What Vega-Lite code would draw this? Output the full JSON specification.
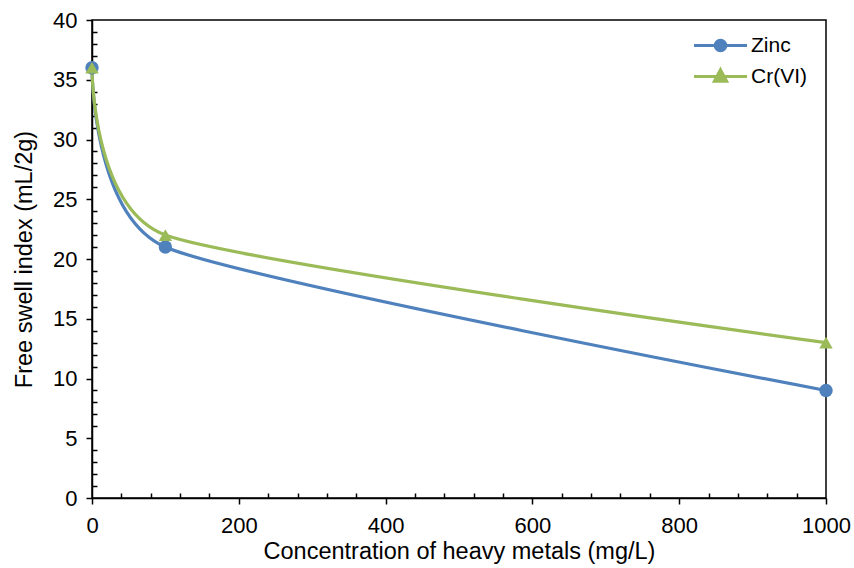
{
  "$schema": "https://vega.github.io/schema/vega-lite/v6.json",
  "width": 734,
  "height": 478,
  "autosize": {"type": "none"},
  "padding": {"left": 92, "top": 20, "right": 28, "bottom": 70},
  "background": "white",
  "config": {
    "font": "Liberation Sans",
    "view": {"stroke": "black", "strokeWidth": 1.5},
    "axis": {"grid": false, "domainColor": "black", "domainWidth": 1.5, "tickColor": "black", "tickWidth": 1.5, "labelColor": "black", "titleColor": "black", "labelFontSize": 22, "titleFontSize": 23.5, "titleFontWeight": "normal", "labelOverlap": false, "labelFlush": false}
  },
  "data": {
    "values": [
      {"series": "Zinc", "conc": 0, "swell": 36},
      {"series": "Zinc", "conc": 100, "swell": 21},
      {"series": "Zinc", "conc": 1000, "swell": 9},
      {"series": "Cr(VI)", "conc": 0, "swell": 36},
      {"series": "Cr(VI)", "conc": 100, "swell": 22},
      {"series": "Cr(VI)", "conc": 1000, "swell": 13}
    ]
  },
  "encoding": {
    "x": {
      "field": "conc", "type": "quantitative",
      "scale": {"domain": [0, 1000], "nice": false},
      "axis": {
        "title": "Concentration of heavy metals (mg/L)",
        "format": "d",
        "values": [0,40,80,120,160,200,240,280,320,360,400,440,480,520,560,600,640,680,720,760,800,840,880,920,960,1000],
        "labelExpr": "datum.value % 200 === 0 ? datum.label : ''",
        "tickSize": {"condition": {"test": "datum.value % 200 === 0", "value": 6}, "value": -5},
        "labelPadding": 11,
        "titlePadding": 3
      }
    },
    "y": {
      "field": "swell", "type": "quantitative",
      "scale": {"domain": [0, 40], "nice": false},
      "axis": {
        "title": "Free swell index (mL/2g)",
        "values": [0,1,2,3,4,5,6,7,8,9,10,11,12,13,14,15,16,17,18,19,20,21,22,23,24,25,26,27,28,29,30,31,32,33,34,35,36,37,38,39,40],
        "labelExpr": "datum.value % 5 === 0 ? datum.label : ''",
        "tickSize": {"condition": {"test": "datum.value % 5 === 0", "value": 6}, "value": -5},
        "labelPadding": 9,
        "titlePadding": 16
      }
    },
    "color": {
      "field": "series", "type": "nominal",
      "scale": {"domain": ["Zinc", "Cr(VI)"], "range": ["#4F81BD", "#9BBB59"]},
      "legend": {
        "title": null, "orient": "none", "legendX": 618, "legendY": 15, "padding": 0,
        "labelFontSize": 21, "labelColor": "black", "symbolSize": 100, "rowPadding": 5, "labelOffset": 20,
        "encode": {
          "symbols": {
            "update": {
              "shape": {"signal": "datum.value === 'Zinc' ? 'M-5.3,0H5.3M1.05,0A1.05,1.05,0,1,1,-1.05,0A1.05,1.05,0,1,1,1.05,0Z' : 'M-5.3,0H5.3M0,-1.3L1.2,0.95L-1.2,0.95Z'"},
              "strokeWidth": {"value": 3.2},
              "stroke": {"signal": "datum.value === 'Zinc' ? '#4F81BD' : '#9BBB59'"},
              "fill": {"signal": "datum.value === 'Zinc' ? '#4F81BD' : '#9BBB59'"},
              "opacity": {"value": 1},
              "fillOpacity": {"value": 1},
              "strokeOpacity": {"value": 1}
            }
          }
        }
      }
    }
  },
  "layer": [
    {"mark": {"type": "line", "interpolate": "cardinal", "tension": 0.4, "strokeWidth": 3.2}},
    {
      "transform": [{"filter": "datum.series === 'Zinc'"}],
      "mark": {"type": "point", "filled": true, "shape": "circle", "size": 180, "opacity": 1}
    },
    {
      "transform": [{"filter": "datum.series === 'Cr(VI)'"}],
      "mark": {"type": "point", "filled": true, "shape": "triangle-up", "size": 180, "opacity": 1}
    }
  ]
}
